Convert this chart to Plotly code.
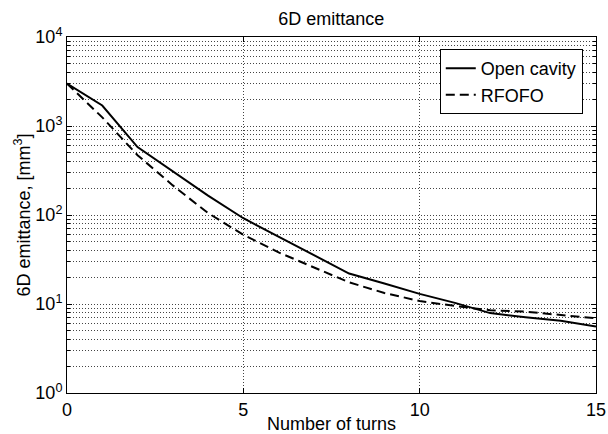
import plotly.graph_objects as go

turns = list(range(16))
open_cavity = [3000, 1700, 580, 310, 165, 92, 57, 36, 22, 17, 13, 10.3, 7.9, 7.1, 6.5, 5.6]
rfofo = [3000, 1250, 470, 215, 105, 60, 38, 26, 17.5, 13.3, 10.8, 9.5, 8.5, 8.2, 7.5, 6.9]

y_major = [1, 10, 100, 1000, 10000]
y_labels = ["10<sup>0</sup>", "10<sup>1</sup>", "10<sup>2</sup>", "10<sup>3</sup>", "10<sup>4</sup>"]
y_minor = [m * d for d in [1, 10, 100, 1000] for m in range(2, 10)]
x_ticks = [0, 5, 10, 15]

font = "Arial, Liberation Sans, sans-serif"

fig = go.Figure()
fig.add_trace(go.Scatter(x=turns, y=open_cavity, mode="lines", name="Open cavity",
                         line=dict(color="black", width=2)))
fig.add_trace(go.Scatter(x=turns, y=rfofo, mode="lines", name="RFOFO",
                         line=dict(color="black", width=2, dash="9px,5px")))

fig.update_layout(
    width=608, height=434,
    margin=dict(l=67, r=12, t=37, b=41),
    paper_bgcolor="white", plot_bgcolor="white",
    font=dict(family=font, size=18, color="black"),
    title=dict(text="6D emittance", x=0.545, xanchor="center", y=0.958, yanchor="middle",
               font=dict(family=font, size=18, color="black")),
    legend=dict(x=0.975, y=0.966, xanchor="right", yanchor="top",
                bgcolor="white", bordercolor="black", borderwidth=1,
                font=dict(size=18), tracegroupgap=0, itemwidth=30),
    showlegend=True,
)
fig.update_xaxes(
    range=[0, 15], tickvals=x_ticks, ticks="inside", ticklen=5, tickcolor="black",
    showline=True, linecolor="black", linewidth=1, mirror="ticks",
    showgrid=True, gridcolor="#444", griddash="1px,2px", gridwidth=1, zeroline=False,
    title=dict(text="Number of turns", standoff=0, font=dict(size=18)),
    tickfont=dict(size=18), automargin=False,
)
fig.update_yaxes(
    type="log", range=[0, 4], tickvals=y_major, ticktext=y_labels,
    ticks="inside", ticklen=5, tickcolor="black",
    showline=True, linecolor="black", linewidth=1, mirror="ticks",
    showgrid=True, gridcolor="#444", griddash="1px,2px", gridwidth=1, zeroline=False,
    minor=dict(tickmode="array", tickvals=y_minor, ticks="inside", ticklen=3,
               tickcolor="black", showgrid=True, gridcolor="#444", griddash="1px,2px",
               gridwidth=1),
    title=dict(text="6D emittance, [mm<sup>3</sup>]", standoff=0, font=dict(size=18)),
    tickfont=dict(size=18), automargin=False,
)

fig.write_html("out.html", config={"displayModeBar": False},
               post_script="document.body.style.margin='0';")
